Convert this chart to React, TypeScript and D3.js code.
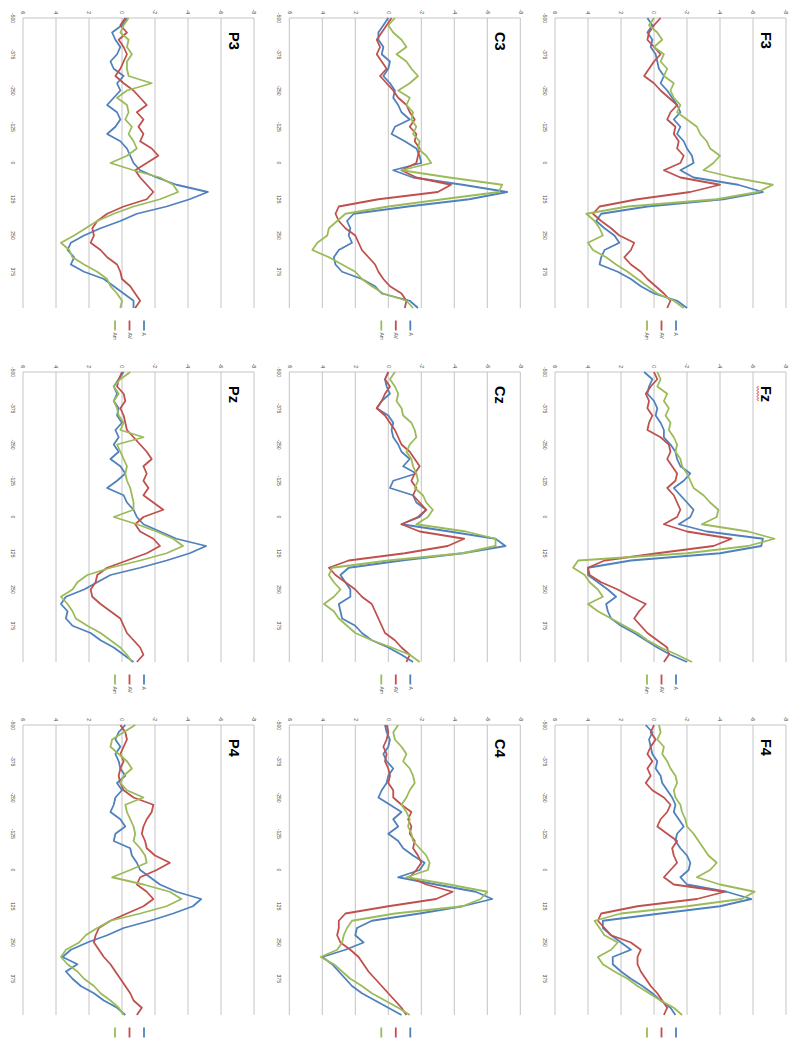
import React from 'react';
import * as d3 from 'd3';

// time axis (ms) and tick labels
const times = [-500, -475, -450, -425, -400, -375, -350, -325, -300, -275, -250, -225, -200, -175, -150, -125, -100, -75, -50, -25,
  0, 25, 50, 75, 100, 125, 150, 175, 200, 225, 250, 275, 300, 325, 350, 375, 400, 425, 450, 475, 500];
const timeTicks = [-500, -375, -250, -125, 0, 125, 250, 375];
const valueTicks = [6, 4, 2, 0, -2, -4, -6, -8];

const seriesNames = ['A', 'AV', 'Am'];
const seriesColors = ['#4F81BD', '#C0504D', '#9BBB59'];

// amplitudes (µV), one value per 25 ms
const F3A = [0.4, 0.1, 0.4, 0.1, 0.2, -0.1, -0.2, -0.3, -0.6, -0.4, -0.8, -1.1, -1.4, -1.6, -1.2, -1.6, -1.4, -1.8, -2.0, -2.3, -2.4, -1.6, -2.4, -5.1, -6.6, -4.2, 0.4, 3.2, 3.5, 3.0, 2.4, 2.1, 3.0, 3.2, 3.3, 2.2, 1.4, 0.8, 0, -1.4, -2.0];
const F3AV = [-0.4, 0, 0.3, 0.4, 0, -0.4, 0, 0.3, 0.6, 0, -0.4, -0.9, -1.4, -1.0, -0.8, -1.3, -1.2, -1.5, -1.4, -1.8, -1.6, -0.6, -1.6, -4.0, -2.2, 1.0, 3.3, 3.7, 3.2, 2.6, 2.1, 1.2, 1.4, 1.8, 1.4, 0.8, 0.4, -0.1, -0.6, -1.0, -0.8];
const F3Am = [0, 0.3, -0.2, -0.5, 0, -0.6, -0.4, -0.8, -0.6, -1.2, -1.0, -1.2, -1.6, -1.4, -2.0, -2.6, -2.8, -3.2, -3.4, -4.0, -3.6, -3.0, -4.8, -7.2, -6.3, -3.8, 1.6, 4.1, 3.6, 3.3, 3.1, 4.0, 3.7, 2.9, 2.3, 1.6, 1.0, 0.4, -0.2, -1.2, -1.8];

const FzA = [0.6, 0.1, 0.3, 0.4, 0, -0.2, -0.1, -0.4, -0.6, -0.6, -1.0, -1.3, -1.4, -1.6, -2.2, -1.8, -1.2, -1.6, -2.0, -2.4, -2.2, -1.5, -3.2, -6.6, -6.5, -4.0, 1.4, 4.0, 4.0, 3.4, 2.8, 2.3, 2.9, 2.8, 2.6, 2.0, 1.2, 0.5, -0.2, -1.0, -2.0];
const FzAV = [0, -0.2, 0.2, 0.5, 0.3, 0.4, 0.1, 0.3, 0.4, -0.4, -0.9, -1.0, -0.8, -1.1, -1.4, -1.3, -0.8, -1.2, -1.4, -1.6, -1.4, -0.6, -2.0, -4.7, -3.6, -0.2, 3.0, 4.0, 3.9, 3.2, 2.2, 1.4, 0.5, 0.9, 1.2, 0.8, 0.4, -0.2, -0.8, -0.9, -0.6];
const FzAm = [-0.2, -0.4, -0.2, -0.8, -0.6, -0.9, -0.7, -1.0, -0.9, -1.2, -1.4, -1.3, -1.6, -1.7, -2.0, -2.2, -2.4, -3.0, -3.4, -3.9, -3.8, -2.9, -5.7, -7.3, -5.7, -2.0, 4.6, 4.9, 4.2, 3.9, 3.4, 3.1, 4.0, 3.4, 2.6, 1.8, 1.0, 0.4, -0.4, -1.4, -2.3];

const F4A = [0.5, 0.1, 0.3, 0.2, 0.1, -0.2, -0.1, -0.4, -0.5, -0.8, -1.1, -1.3, -1.2, -1.5, -1.8, -1.4, -1.3, -1.6, -2.0, -2.2, -2.1, -1.6, -2.0, -4.4, -5.9, -4.0, -0.4, 3.1, 3.1, 2.6, 2.0, 1.4, 2.5, 2.5, 2.0, 1.4, 0.7, 0.1, -0.4, -1.0, -1.3];
const F4AV = [0, 0.2, -0.1, 0.2, 0.4, 0.1, 0.4, 0.2, 0.5, 0.1, -0.6, -1.0, -0.8, -0.4, -0.2, -0.8, -1.4, -1.1, -1.2, -1.4, -1.0, -0.6, -1.2, -4.3, -2.6, 1.0, 3.2, 3.4, 3.0, 2.6, 1.4, 0.8, 1.0, 1.0, 0.8, 0.5, 0.2, -0.2, -0.5, -0.8, -0.6];
const F4Am = [-0.3, -0.4, -0.2, -0.6, -0.5, -0.8, -1.0, -1.3, -1.4, -1.2, -1.3, -1.6, -1.7, -1.9, -2.0, -2.4, -2.7, -3.0, -3.3, -3.8, -3.4, -2.6, -4.0, -6.1, -5.3, -2.0, 2.0, 3.6, 3.3, 3.0, 2.2, 2.6, 3.4, 3.1, 2.4, 1.6, 1.0, 0.3, -0.4, -1.2, -1.7];

const C3A = [0, 0.3, 0.6, 0.6, 0.3, 0.4, -0.1, 0, 0.3, -0.1, -0.4, -0.3, -0.6, -0.8, -1.3, -0.4, -0.2, -1.0, -1.7, -1.9, -2.0, -0.3, -1.5, -4.5, -7.2, -4.9, -1.2, 2.1, 2.5, 2.3, 2.4, 2.2, 3.0, 3.3, 3.2, 2.8, 1.6, 0.8, 0.4, -1.3, -1.8];
const C3AV = [-0.2, 0.1, 0.4, 0.7, 0.5, 0.7, 0.4, 0.1, 0.5, 0.1, -0.3, -0.6, -1.1, -1.3, -1.6, -1.3, -1.7, -1.6, -1.9, -1.8, -1.7, -0.8, -1.7, -3.8, -3.0, 0.6, 3.0, 3.2, 3.0, 2.6, 2.0, 1.8, 1.6, 1.2, 0.8, 0.6, 0.3, -0.1, -0.8, -1.1, -1.0];
const C3Am = [-0.4, 0, -0.3, -0.8, -1.1, -0.5, -1.1, -1.4, -1.8, -1.3, -0.6, -1.3, -1.1, -1.5, -1.4, -1.7, -1.5, -1.9, -1.8, -2.3, -2.6, -0.8, -3.7, -6.9, -6.7, -3.3, 0, 2.6, 3.1, 3.6, 3.7, 4.3, 4.6, 3.6, 2.8, 2.0, 1.6, 1.0, 0.3, -1.1, -1.5];

const CzA = [0, 0.2, 0.1, -0.1, 0.4, 0.7, 0, -0.3, -0.2, -0.3, -0.6, -0.8, -1.3, -0.9, -1.7, -0.3, -0.1, -1.5, -1.7, -2.3, -1.9, -0.8, -3.7, -6.5, -7.1, -4.5, -0.8, 2.4, 2.9, 2.6, 2.3, 2.3, 3.0, 2.9, 2.8, 2.0, 1.6, 1.0, 0, -0.8, -1.5];
const CzAV = [0, 0.2, -0.1, 0.2, 0.4, 0.7, 0.2, -0.1, -0.4, -0.6, -0.8, -1.3, -1.6, -1.9, -1.6, -1.4, -1.7, -1.5, -1.9, -2.3, -1.8, -0.8, -1.9, -4.6, -3.6, -1.0, 2.4, 3.6, 3.2, 2.6, 2.0, 1.6, 1.0, 0.8, 0.6, 0.4, 0.2, -0.4, -0.8, -1.3, -1.1];
const CzAm = [-0.4, -0.1, -0.4, -0.6, -0.5, -0.8, -0.9, -1.4, -1.6, -1.7, -1.3, -1.1, -1.4, -1.5, -1.7, -1.8, -1.6, -2.1, -2.3, -2.7, -2.4, -1.7, -4.7, -6.5, -6.5, -4.5, 0, 3.4, 3.6, 3.3, 2.9, 3.3, 3.9, 3.3, 3.0, 2.5, 2.0, 1.0, -0.2, -1.3, -1.9];

const C4A = [0.2, 0.1, -0.1, 0, 0.3, 0.1, -0.3, 0, 0.1, 0.4, 0.6, -0.1, -0.8, -0.3, -0.6, 0, -0.6, -0.9, -1.5, -2.2, -1.9, -0.6, -2.9, -5.3, -6.3, -4.5, -1.9, 1.0, 1.9, 2.0, 1.5, 2.6, 4.0, 3.4, 3.0, 2.6, 2.2, 1.6, 0.8, 0, -0.8];
const C4AV = [0.1, 0, 0.1, 0.3, 0.1, 0.2, 0, -0.1, 0, -0.3, -0.3, -0.8, -1.4, -1.2, -1.4, -1.3, -1.6, -1.5, -1.8, -2.0, -1.7, -1.3, -2.3, -3.9, -2.9, 0, 2.6, 3.0, 3.0, 3.1, 2.9, 2.3, 1.8, 1.5, 1.2, 0.8, 0.4, 0, -0.4, -0.8, -1.1];
const C4Am = [-0.6, -0.3, -0.4, -0.8, -1.1, -0.9, -1.3, -1.5, -1.6, -1.3, -1.1, -0.8, -1.1, -1.3, -1.2, -1.4, -1.5, -1.9, -2.3, -2.5, -2.4, -1.1, -3.7, -6.0, -5.6, -4.5, -0.4, 2.2, 2.5, 2.7, 2.8, 3.1, 4.1, 3.3, 2.8, 2.3, 1.6, 1.0, 0.2, -0.6, -1.3];

const P3A = [-0.3, 0, 0.6, 0.4, 0.1, 0.3, 0.7, 0.5, -0.1, 0.3, 0.1, 0.5, 0.9, 0.3, 0.1, 0.4, 0.9, 0.1, -0.3, -0.5, -0.7, -1.1, -2.1, -3.3, -5.2, -4.1, -2.7, -0.9, 0.1, 1.3, 2.3, 3.1, 3.3, 2.9, 3.1, 2.3, 1.1, 0.5, -0.1, -0.7, -0.7];
const P3AV = [-0.2, 0.1, -0.3, 0.2, -0.1, -0.3, -0.1, 0.1, 0.4, -0.1, -0.7, -1.1, -1.5, -0.9, -1.3, -1.0, -1.3, -1.1, -1.8, -2.2, -1.5, -0.8, -1.1, -1.5, -1.9, -1.5, -0.1, 0.9, 1.5, 1.8, 1.7, 1.9, 1.3, 0.9, 0.3, 0.1, 0, -0.5, -0.8, -1.1, -0.8];
const P3Am = [-0.4, -0.1, 0.1, -0.4, -0.3, -0.6, -0.3, -0.3, -0.4, -1.8, -0.3, 0.3, -0.3, -0.4, -0.2, -0.6, -0.4, -0.7, -0.9, -0.3, 0.7, -0.7, -2.3, -3.1, -3.4, -2.3, -0.7, 0.5, 1.5, 2.2, 2.9, 3.7, 3.2, 3.0, 2.3, 1.5, 0.9, 0.7, 0.3, 0, 0.1];

const PzA = [-0.1, 0.2, 0.5, 0.3, 0.5, 0.2, 0.3, 0, 0.4, 0.2, 0.5, 0.2, 0.7, 0.1, -0.2, 0.3, 0.9, -0.1, -0.3, -0.7, -0.9, -1.3, -2.3, -3.3, -5.1, -4.1, -2.7, -1.1, 0.7, 1.5, 2.3, 3.4, 3.7, 3.3, 3.4, 3.0, 1.9, 1.3, 0.5, -0.1, -0.7];
const PzAV = [0, 0.2, 0.3, -0.1, -0.2, 0.1, -0.1, -0.2, -0.3, -0.7, -1.1, -1.5, -1.8, -1.3, -1.5, -1.3, -1.6, -1.3, -1.9, -2.5, -1.3, -0.8, -1.1, -1.9, -2.3, -1.5, -0.3, 0.9, 1.5, 1.6, 1.9, 1.8, 1.3, 0.7, 0.1, -0.1, -0.3, -0.7, -1.1, -1.3, -0.9];
const PzAm = [-0.5, 0.1, 0.5, 0.2, 0.5, 0.3, 0.2, -0.1, 0.1, -1.3, 0.3, 0.1, -0.1, -0.3, -0.2, -0.3, -0.5, -0.6, -0.7, -0.7, 0.5, -0.9, -2.1, -3.1, -3.7, -2.7, -1.1, 0.7, 2.1, 2.7, 3.0, 3.7, 3.3, 3.0, 2.8, 2.1, 1.3, 0.7, 0.1, -0.3, -0.6];

const P4A = [-0.2, 0.2, 0.4, 0.1, 0.4, 0.2, 0.1, -0.2, 0.3, 0, 0.4, 0.5, 0.7, 0.1, -0.2, 0.4, 0.5, -0.5, -0.6, -0.9, -1.1, -1.7, -2.3, -3.3, -4.8, -4.3, -3.1, -1.7, -0.1, 0.9, 2.1, 3.1, 3.6, 2.7, 3.4, 3.0, 2.5, 1.7, 1.1, 0.3, -0.2];
const P4AV = [0.1, -0.2, -0.3, -0.1, 0.1, -0.1, 0.1, 0.2, 0.1, -0.1, -0.7, -1.9, -1.8, -1.5, -1.3, -1.2, -1.4, -1.5, -2.0, -2.9, -2.1, -1.1, -0.9, -1.5, -1.9, -1.3, -0.3, 0.7, 1.4, 1.6, 1.7, 1.4, 1.1, 0.7, 0.4, 0.1, -0.2, -0.5, -0.7, -1.2, -0.9];
const P4Am = [-0.8, -0.1, 0.6, 0.7, 0.2, -0.3, -0.6, -0.1, 0.1, -0.3, -1.3, -0.2, -0.3, -0.5, -0.7, -0.8, -0.7, -1.1, -1.4, -1.5, -0.5, 0.6, -1.3, -2.9, -3.6, -2.7, -1.1, 0.7, 1.5, 2.2, 2.6, 3.4, 3.7, 3.3, 2.7, 2.3, 1.7, 1.3, 0.7, 0.2, -0.1];

// row: F / C / P, col: 3 / z / 4 (before the page is turned)
const panels = [
  { name: 'F3', row: 0, col: 0, data: [F3A, F3AV, F3Am] },
  { name: 'Fz', row: 0, col: 1, data: [FzA, FzAV, FzAm] },
  { name: 'F4', row: 0, col: 2, data: [F4A, F4AV, F4Am] },
  { name: 'C3', row: 1, col: 0, data: [C3A, C3AV, C3Am] },
  { name: 'Cz', row: 1, col: 1, data: [CzA, CzAV, CzAm] },
  { name: 'C4', row: 1, col: 2, data: [C4A, C4AV, C4Am] },
  { name: 'P3', row: 2, col: 0, data: [P3A, P3AV, P3Am] },
  { name: 'Pz', row: 2, col: 1, data: [PzA, PzAV, PzAm] },
  { name: 'P4', row: 2, col: 2, data: [P4A, P4AV, P4Am] },
];

const W = 791;
const H = 1041;
const colLeft = [18, 372, 725];
const rowTop = [5, 270.7, 537];
const plotW = 290;
const plotH = 231;
const font = 'Liberation Sans, Arial, sans-serif';

function squiggle(x0: number, y0: number, w: number) {
  let d = `M${x0},${y0}`;
  for (let i = 1; i * 1.5 <= w; i++) {
    d += ` L${x0 + i * 1.5},${y0 + (i % 2 ? 1.4 : 0)}`;
  }
  return d;
}

function Panel({ p }: { p: typeof panels[number] }) {
  const x0 = colLeft[p.col];
  const y0 = rowTop[p.row];
  const x = d3.scaleLinear().domain([-500, 500]).range([x0, x0 + plotW]);
  // negative up, as usual for ERPs
  const y = d3.scaleLinear().domain([-8, 6]).range([y0, y0 + plotH]);
  const line = d3
    .line<number>()
    .x((_, i) => x(times[i]))
    .y((d) => y(d));

  // the legend labels of the last column fall off the sheet in the photo
  const legendText = x0 + 314.5 + 4 < H;

  return (
    <g>
      {valueTicks.map((v) => (
        <line key={'g' + v} x1={x0} x2={x0 + plotW} y1={y(v)} y2={y(v)} stroke="#c4c4c4" strokeWidth={1} />
      ))}
      <line x1={x0} x2={x0} y1={y0} y2={y0 + plotH} stroke="#c4c4c4" strokeWidth={1} />
      {valueTicks.map((v) => (
        <text key={'v' + v} x={x0 - 4} y={y(v) + 1.8} textAnchor="end" fontSize={5} fill="#444" fontFamily={font}>
          {v}
        </text>
      ))}
      {timeTicks.map((t) => (
        <text key={'t' + t} x={x(t)} y={y0 + plotH + 12} textAnchor="middle" fontSize={5} fill="#444" fontFamily={font}>
          {t}
        </text>
      ))}
      {p.data.map((s, k) => (
        <path key={'s' + k} d={line(s) || ''} fill="none" stroke={seriesColors[k]} strokeWidth={1.8} strokeLinejoin="round" />
      ))}
      <text x={x0 + 14} y={y0 + 25} fontSize={14.5} fontWeight="bold" fill="#000" fontFamily={font}>
        {p.name}
      </text>
      {p.name === 'Fz' && (
        <path d={squiggle(x0 + 14, y0 + 27.5, 16)} fill="none" stroke="#e00000" strokeWidth={0.8} />
      )}
      {seriesNames.map((n, k) => {
        const ly = y0 + 110 + k * 14.5;
        return (
          <g key={'l' + n}>
            <line x1={x0 + 302.5} x2={x0 + 312.5} y1={ly} y2={ly} stroke={seriesColors[k]} strokeWidth={1.8} />
            {legendText && (
              <text x={x0 + 314.5} y={ly + 1.8} fontSize={5} fill="#444" fontFamily={font}>
                {n}
              </text>
            )}
          </g>
        );
      })}
    </g>
  );
}

export default function App() {
  return (
    <svg
      width={W}
      height={H}
      style={{ position: 'absolute', left: 0, top: 0, background: '#fff' }}
    >
      {/* the sheet was photographed turned a quarter clockwise */}
      <g transform={`translate(${W},0) rotate(90)`}>
        <rect x={0} y={0} width={H} height={W} fill="#fff" />
        {panels.map((p) => (
          <Panel key={p.name} p={p} />
        ))}
      </g>
    </svg>
  );
}
